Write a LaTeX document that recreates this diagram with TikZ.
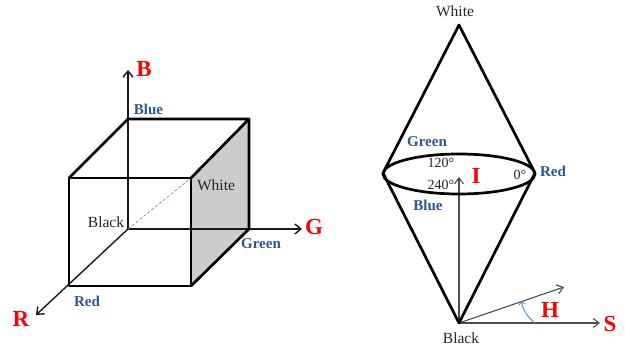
\documentclass[tikz,border=0pt]{standalone}
\usepackage{fontspec}
\setmainfont{Liberation Serif}
\usepackage{xcolor}
\usetikzlibrary{calc,positioning,arrows.meta}
\definecolor{lblblue}{HTML}{2F5597}
\definecolor{axred}{HTML}{FF0000}
\definecolor{facegray}{HTML}{CCCCCC}
\definecolor{arcblue}{HTML}{5B9BD5}
\begin{document}
\begin{tikzpicture}[x=1pt,y=-1pt,
  edge/.style={black,line width=2.7pt,line cap=round,line join=round},
  axis/.style={-{Straight Barb[length=6pt,width=10pt]},black!90,line width=1.4pt},
  thin axis/.style={-{Straight Barb[length=6pt,width=9pt]},black!70,line width=1.1pt},
  ax/.style={text=axred,font=\fontsize{23}{23}\selectfont\bfseries,inner sep=0pt},
  col/.style={text=lblblue,font=\fontsize{15}{15}\selectfont\bfseries,inner sep=0pt},
  blk/.style={text=black!85,font=\fontsize{15.5}{15.5}\selectfont,inner sep=0pt},
  deg/.style={text=black!85,font=\fontsize{14}{14}\selectfont,inner sep=0pt}]
\useasboundingbox (0,0) rectangle (625,347);
% cube
\coordinate (o) at (128,229);\coordinate (ob) at (128,119);\coordinate (og) at (249,229);\coordinate (obg) at (249,119);
\coordinate (fr) at (69,286);\coordinate (fw) at (191,178);\coordinate (fb) at (69,178);\coordinate (fg) at (191,286);
\coordinate (bEnd) at (128,70);\coordinate (gEnd) at (302,229);\coordinate (rEnd) at (36,315);
\fill[facegray] (fw) -- (obg) -- (og) -- (fg) -- cycle;
\draw[axis] (o) -- (bEnd);\draw[axis] (o) -- (gEnd);\draw[axis] (o) -- (rEnd);
\draw[densely dashed,arcblue,line width=0.7pt] (o) -- (fw);
\draw[edge] (fb) -- (fw) -- (fg) -- (fr) -- cycle;
\draw[edge] (fb) -- (ob) -- (obg) -- (fw);\draw[edge] (obg) -- (og) -- (fg);
\node[ax] (nB) at (144,69) {B};\node[ax] (nG) at (314,227) {G};\node[ax] (nR) at (21,319) {R};
\node[col] (nBlue) at (148.5,109) {Blue};\node[col] (nGreen) at (261,244) {Green};\node[col] (nRed) at (87,301) {Red};
\node[blk] (nBlack) at (106,222) {Black};\node[blk] (nWhite) at (216,185) {White};
% double cone
\coordinate (top) at (459,25);\coordinate (lft) at (383,173);\coordinate (rgt) at (535,173);\coordinate (bot) at (459,323);
\coordinate (iEnd) at (459,177);\coordinate (sEnd) at (600,323);\coordinate (hEnd) at (564,287);
\coordinate (arcA) at (535,323);\coordinate (arcB) at (521,301);
\draw[thin axis] (bot) -- (iEnd);\draw[thin axis] (bot) -- (sEnd);\draw[thin axis] (bot) -- (hEnd);
\draw[edge] (lft) -- (top) -- (rgt) -- (bot) -- cycle;
\draw[edge] (459,174) ellipse (76 and 20);
\draw[arcblue,line width=1pt,-{Straight Barb[length=3pt,width=6pt]}] (arcA) to[bend left=18] (arcB);
\node[ax] (nI) at (476,176) {I};\node[ax] (nH) at (550,310) {H};\node[ax] (nS) at (610,324) {S};
\node[blk] (nTop) at (455,11) {White};\node[blk] (nBot) at (461,338) {Black};
\node[col] (nGr2) at (427,142) {Green};\node[col] (nBl2) at (428,205) {Blue};\node[col] (nRd2) at (553,171) {Red};
\node[deg] (d120) at (441,163) {120°};\node[deg] (d240) at (441,185) {240°};\node[deg] (d0) at (520,175) {0°};
\end{tikzpicture}
\end{document}
